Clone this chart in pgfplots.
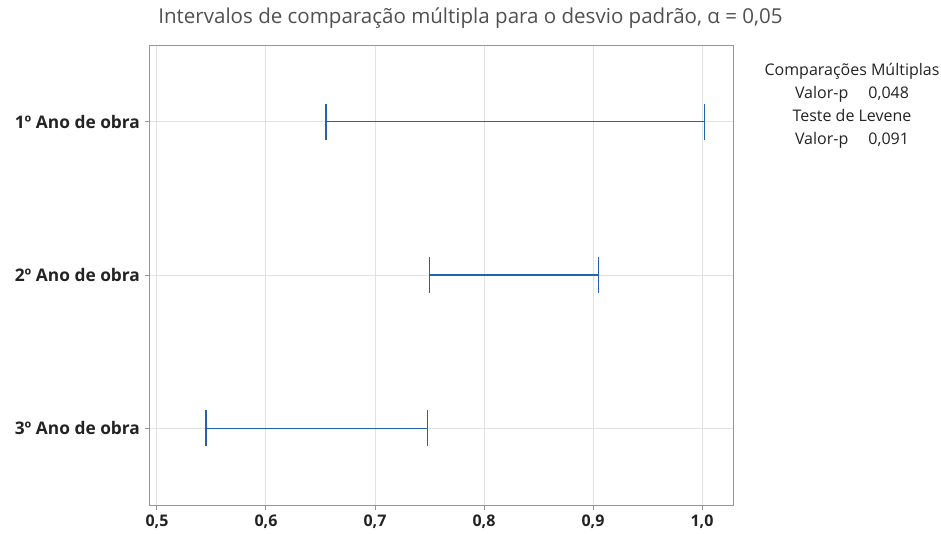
\documentclass[border=0pt]{standalone}
\usepackage{fontspec}
\setmainfont{Open Sans}
\usepackage{pgfplots}
\pgfplotsset{compat=1.18}
\definecolor{ivblue}{RGB}{33,100,172}
\definecolor{gridgray}{RGB}{226,226,226}
\definecolor{framegray}{RGB}{150,150,150}
\definecolor{txt}{RGB}{35,35,35}
\definecolor{ttl}{RGB}{80,80,80}
\begin{document}
\begin{tikzpicture}[x=1pt,y=1pt]
% 1px = 0.75pt, axis box lower left at (0,0)
\path[use as bounding box] (-112.5,-21) rectangle (593.25,378.75);
\begin{axis}[
  scale only axis, width=437.25pt, height=345pt,
  xmin=0.4936, xmax=1.0284, ymin=0.5, ymax=3.5,
  xtick={0.5,0.6,0.7,0.8,0.9,1.0}, ytick={1,2,3},
  yticklabels={3º Ano de obra, 2º Ano de obra, 1º Ano de obra},
  /pgf/number format/assume math mode=true,
  /pgf/number format/.cd, fixed, fixed zerofill, precision=1, use comma, /pgfplots/.cd,
  yticklabel style={font=\fontsize{13}{15}\selectfont\bfseries, text=txt},
  xticklabel style={font=\fontsize{12}{14}\selectfont\bfseries, text=txt},
  tick align=outside, major tick length=4pt,
  tick style={framegray, line width=0.75pt},
  axis line style={framegray, line width=0.75pt},
  grid=major, major grid style={gridgray, line width=0.75pt},
  xtick pos=bottom, ytick pos=left,
]
\addplot[ivblue, line width=0.9pt, mark=|, mark size=13.5pt] coordinates {(0.655,3) (1.002,3)};
\addplot[ivblue, line width=0.9pt, mark=|, mark size=13.5pt] coordinates {(0.750,2) (0.905,2)};
\addplot[ivblue, line width=0.9pt, mark=|, mark size=13.5pt] coordinates {(0.545,1) (0.748,1)};
\end{axis}
\node[text=ttl, font=\fontsize{15.4}{18}\selectfont] at (240.4,365.25) {Intervalos de comparação múltipla para o desvio padrão, α = 0,05};
\node[text=txt, font=\fontsize{12}{17.25}\selectfont, align=center, anchor=north] at (526.5,335) {Comparações Múltiplas\\Valor-p\quad\ 0,048\\Teste de Levene\\Valor-p\quad\ 0,091};
\end{tikzpicture}
\end{document}
